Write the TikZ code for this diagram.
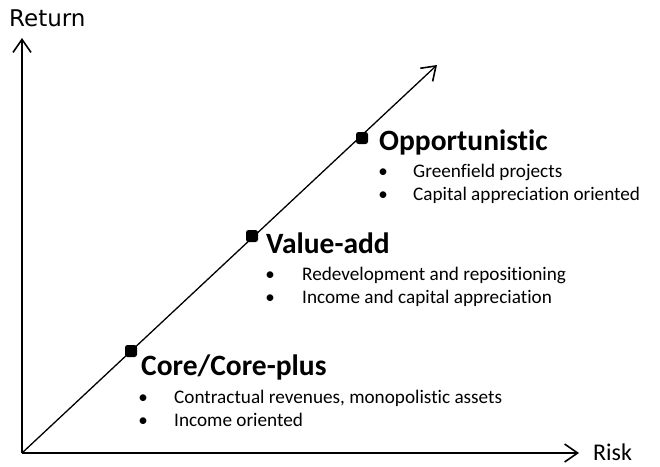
\documentclass[tikz,border=0pt]{standalone}
\usepackage{fontspec}
\setmainfont[Ligatures=NoCommon]{Carlito}
\newfontfamily\axisfont{DejaVu Sans}
\usetikzlibrary{arrows.meta}
\tikzstyle{axis} = [line width=1.6pt, -{Straight Barb[length=13pt,width=18pt,line width=1.6pt]}]
\tikzstyle{stage} = [rectangle, rounded corners=2.5pt, fill=black, minimum size=12pt, inner sep=0pt]
\tikzstyle{head} = [anchor=base west, inner sep=0pt, font=\fontsize{29.5}{34}\selectfont\bfseries]
\tikzstyle{dot} = [anchor=base, inner sep=0pt, font=\fontsize{19}{23}\selectfont]
\tikzstyle{item} = [anchor=base west, inner sep=0pt, font=\fontsize{19.2}{23}\selectfont]

\begin{document}
\begin{tikzpicture}[x=1pt,y=-1pt]
    \useasboundingbox (0,0) rectangle (660,466);
    \coordinate (O) at (22,453);
    \coordinate (ytip) at (22,38);
    \coordinate (xtip) at (579,453);
    \coordinate (dtip) at (437,65);
    \node (ret) [anchor=base west, inner sep=0pt, font=\axisfont\fontsize{23}{27}\selectfont] at (9,26) {Return};
    \node (risk) [anchor=base west, inner sep=0pt, font=\fontsize{24}{28}\selectfont] at (593,460) {Risk};
    \draw[axis] (O) -- (ytip);
    \draw[axis] (O) -- (xtip);
    \draw[axis, line width=1.3pt] (O) -- (dtip);
    \node (core) [stage] at (131,351) {};
    \node (value) [stage] at (252,236) {};
    \node (opp) [stage] at (362,138) {};
    % Opportunistic
    \node (oppHead) [head] at (379,150) {Opportunistic};
    \node (oppB1) [dot] at (383,177) {\textbullet};
    \node (oppT1) [item] at (413,177) {Greenfield projects};
    \node (oppB2) [dot] at (383,200) {\textbullet};
    \node (oppT2) [item] at (413,200) {Capital appreciation oriented};
    % Value-add
    \node (valueHead) [head] at (266,253) {Value-add};
    \node (valueB1) [dot] at (270,280) {\textbullet};
    \node (valueT1) [item] at (302,280) {Redevelopment and repositioning};
    \node (valueB2) [dot] at (270,303) {\textbullet};
    \node (valueT2) [item] at (302,303) {Income and capital appreciation};
    % Core/Core-plus
    \node (coreHead) [head] at (141,375) {Core/Core-plus};
    \node (coreB1) [dot] at (143,403) {\textbullet};
    \node (coreT1) [item] at (174,403) {Contractual revenues, monopolistic assets};
    \node (coreB2) [dot] at (143,426) {\textbullet};
    \node (coreT2) [item] at (174,426) {Income oriented};
\end{tikzpicture}
\end{document}
